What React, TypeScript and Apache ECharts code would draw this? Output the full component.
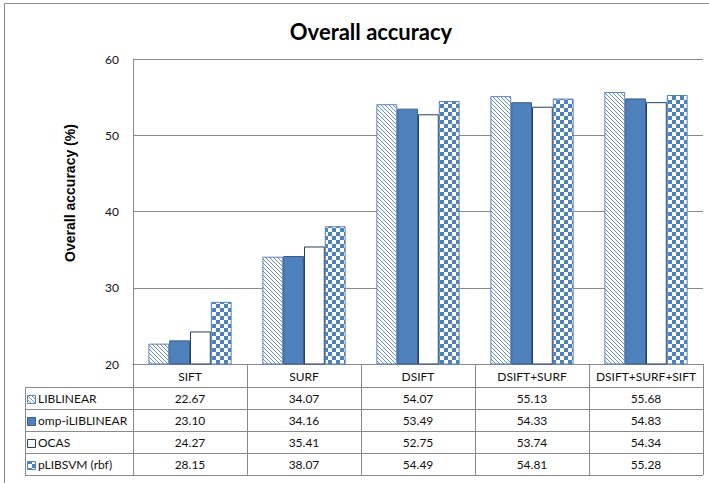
import React, { useEffect, useRef } from "react";
import * as echarts from "echarts";

const categories = ["SIFT", "SURF", "DSIFT", "DSIFT+SURF", "DSIFT+SURF+SIFT"];
const seriesNames = ["LIBLINEAR", "omp-iLIBLINEAR", "OCAS", "pLIBSVM (rbf)"];
const liblinear = [22.67, 34.07, 54.07, 55.13, 55.68];
const ompILiblinear = [23.1, 34.16, 53.49, 54.33, 54.83];
const ocas = [24.27, 35.41, 52.75, 53.74, 54.34];
const plibsvm = [28.15, 38.07, 54.49, 54.81, 55.28];
const yMin = 20;
const yMax = 60;
const yInterval = 10;
const titleText = "Overall accuracy";
const yTitle = "Overall accuracy (%)";

const BLUE = "#4F81BD";
const LATO = "Lato, Carlito, Calibri, sans-serif";

function makeStripe() {
  const c = document.createElement("canvas");
  c.width = 4;
  c.height = 4;
  const ctx = c.getContext("2d")!;
  ctx.fillStyle = "#ffffff";
  ctx.fillRect(0, 0, 4, 4);
  ctx.fillStyle = "#6a8fc4";
  for (let i = 0; i < 4; i++) ctx.fillRect(i, i, 1, 1);
  return { image: c, repeat: "repeat", imageWidth: 4, imageHeight: 4 } as any;
}

function makeChecker() {
  const c = document.createElement("canvas");
  c.width = 8;
  c.height = 8;
  const ctx = c.getContext("2d")!;
  ctx.fillStyle = "#ffffff";
  ctx.fillRect(0, 0, 8, 8);
  ctx.fillStyle = BLUE;
  ctx.fillRect(0, 0, 4, 4);
  ctx.fillRect(4, 4, 4, 4);
  return { image: c, repeat: "repeat", imageWidth: 8, imageHeight: 8 } as any;
}

export default function App() {
  const ref = useRef<HTMLDivElement>(null);
  useEffect(() => {
    if (!ref.current) return;
    const chart = echarts.init(ref.current, null, { renderer: "svg" });
    const stripe = makeStripe();
    const checker = makeChecker();
    const allData = [liblinear, ompILiblinear, ocas, plibsvm];
    const fills = [stripe, BLUE, "#ffffff", checker];
    const borders = ["#5b82b8", "#385D8A", "#243F60", BLUE];

    const gridLeft = 133;
    const gridRight = 6;
    const gridTop = 59;
    const gridBottom = 119;

    chart.setOption({
      animation: false,
      grid: { left: gridLeft, right: gridRight, top: gridTop, bottom: gridBottom },
      xAxis: {
        type: "category",
        data: categories,
        axisLine: { show: true, lineStyle: { color: "#8a8a8a", width: 1 } },
        axisTick: { show: true, length: 111, lineStyle: { color: "#8a8a8a", width: 1 } },
        axisLabel: { interval: 0, margin: 6, fontFamily: LATO, fontSize: 12, color: "#111" },
      },
      yAxis: {
        type: "value",
        min: yMin,
        max: yMax,
        interval: yInterval,
        axisLine: { show: true, lineStyle: { color: "#8a8a8a", width: 1 } },
        axisTick: { show: false },
        splitLine: { lineStyle: { color: "#8a8a8a", width: 1 } },
        axisLabel: { margin: 14, fontFamily: LATO, fontSize: 12, color: "#111" },
      },
      series: allData.map((d, i) => ({
        type: "bar",
        name: seriesNames[i],
        data: d,
        barGap: "0%",
        barCategoryGap: "27%",
        itemStyle: { color: fills[i], borderColor: borders[i], borderWidth: 1 },
      })),
    });

    const right = 709 - gridRight;
    const rowLines = [387, 409, 431, 453, 475];
    const tableLeft = 25;
    const graphics: any[] = [];

    graphics.push({
      type: "rect",
      shape: { x: 4.5, y: 3.5, width: 720, height: 520 },
      style: { fill: "none", stroke: "#8c8c8c", lineWidth: 1 },
      silent: true,
    });
    graphics.push({
      type: "text",
      x: 371,
      y: 31,
      style: {
        text: titleText,
        font: `bold 22px ${LATO}`,
        fill: "#000",
        textAlign: "center",
        textVerticalAlign: "middle",
      },
    });
    graphics.push({
      type: "text",
      x: 70,
      y: 193,
      rotation: Math.PI / 2,
      style: {
        text: yTitle,
        font: "bold 14px 'Liberation Sans', Arial, sans-serif",
        fill: "#000",
        textAlign: "center",
        textVerticalAlign: "middle",
      },
    });
    rowLines.forEach((y) => {
      graphics.push({
        type: "line",
        shape: { x1: tableLeft, y1: y + 0.5, x2: right, y2: y + 0.5 },
        style: { stroke: "#8a8a8a", lineWidth: 1 },
      });
    });
    graphics.push({
      type: "line",
      shape: { x1: tableLeft + 0.5, y1: rowLines[0], x2: tableLeft + 0.5, y2: rowLines[rowLines.length - 1] + 1 },
      style: { stroke: "#8a8a8a", lineWidth: 1 },
    });

    allData.forEach((d, r) => {
      const cy = (rowLines[r] + rowLines[r + 1]) / 2 + 0.5;
      graphics.push({
        type: "rect",
        shape: { x: 27.5, y: Math.round(cy - 4) + 0.5, width: 8, height: 8 },
        style: { fill: fills[r], stroke: borders[r], lineWidth: 1 },
      });
      graphics.push({
        type: "text",
        x: 38,
        y: cy,
        style: {
          text: seriesNames[r],
          font: `12px ${LATO}`,
          fill: "#111",
          textAlign: "left",
          textVerticalAlign: "middle",
        },
      });
      d.forEach((v, c) => {
        const px = chart.convertToPixel({ xAxisIndex: 0 }, categories[c]) as number;
        graphics.push({
          type: "text",
          x: px,
          y: cy,
          style: {
            text: v.toFixed(2),
            font: `12px ${LATO}`,
            fill: "#111",
            textAlign: "center",
            textVerticalAlign: "middle",
          },
        });
      });
    });

    chart.setOption({ graphic: graphics });
    return () => chart.dispose();
  }, []);
  return <div ref={ref} style={{ width: 709, height: 483, position: "absolute", left: 0, top: 0, background: "#fff" }} />;
}
